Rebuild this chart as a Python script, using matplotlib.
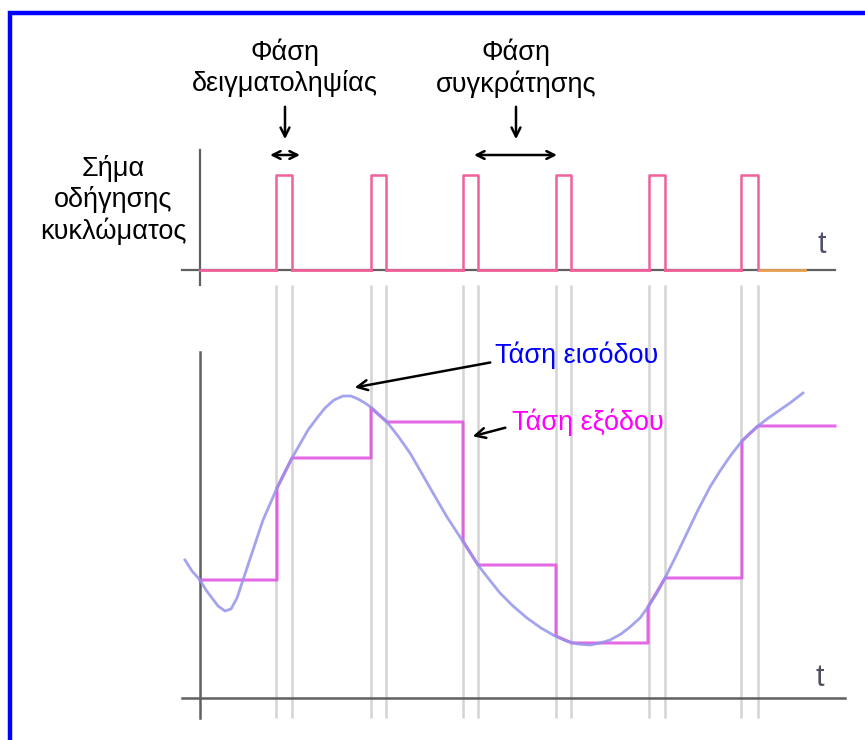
import numpy as np
import matplotlib
matplotlib.use("Agg")
import matplotlib.pyplot as plt
from matplotlib.patches import Rectangle, FancyArrowPatch

plt.rcParams['font.family'] = ['Liberation Sans', 'DejaVu Sans']

W, H = 865, 740

# sampling windows (time units), same for the drive pulses
win_start = [7.6, 17.1, 26.3, 35.6, 44.9, 54.1]
win_end = [9.2, 18.6, 27.8, 37.1, 46.5, 55.8]

# input voltage
vin_t = [-1.5, -0.8, 0.0, 0.6, 1.2, 1.8, 2.5, 3.1, 3.7, 4.2, 5.2, 6.3, 7.7,
         9.2, 10.8, 11.7, 12.5, 13.4, 14.3, 15.1, 15.8, 16.5, 17.2, 18.7,
         19.8, 21.0, 22.1, 23.3, 24.7, 26.2, 27.8, 28.8, 30.0, 31.3, 32.7,
         34.1, 35.5, 36.6, 37.8, 39.0, 40.0, 41.0, 42.1, 43.0, 44.0, 44.8,
         45.7, 46.5, 47.6, 48.7, 49.8, 51.0, 52.0, 53.1, 54.2, 55.0, 55.8,
         56.7, 57.7, 59.0, 60.3]
vin_v = [13.8, 12.7, 11.8, 10.8, 10.0, 9.2, 8.7, 8.9, 10.0, 11.5, 14.5, 17.8,
         21.0, 24.0, 26.8, 28.0, 29.0, 29.8, 30.2, 30.2, 29.9, 29.5, 29.0,
         27.6, 26.2, 24.5, 22.6, 20.5, 18.1, 15.8, 13.3, 12.0, 10.5, 9.2,
         8.0, 7.0, 6.2, 5.7, 5.4, 5.3, 5.5, 5.8, 6.4, 7.1, 8.0, 9.1, 10.5,
         12.0, 14.2, 16.5, 18.8, 21.1, 22.7, 24.3, 25.7, 26.5, 27.2, 27.9,
         28.6, 29.5, 30.5]

# sample-and-hold output
vout_t = [0.0, 7.7, 7.7, 9.2, 17.1, 17.1, 18.7, 26.3, 26.3, 27.8, 35.6, 35.6,
          37.2, 44.8, 44.8, 46.5, 54.2, 54.2, 55.8, 63.5]
vout_v = [11.8, 11.8, 21.0, 24.0, 24.0, 29.0, 27.6, 27.6, 15.7, 13.3, 13.3,
          6.2, 5.5, 5.5, 9.1, 12.0, 12.0, 25.7, 27.2, 27.2]

fig = plt.figure(figsize=(W / 100, H / 100), dpi=100)


def px(x, y):
    return (x / W, 1 - y / H)


# blue frame
fig.patches.append(Rectangle(px(10, 742), 870 / W, 729 / H, fill=False,
                             edgecolor='#0000ff', linewidth=3.2,
                             transform=fig.transFigure))

axc = fig.add_axes([180 / W, 1 - 289 / H, 670 / W, 142.5 / H])
axv = fig.add_axes([180 / W, 1 - 723 / H, 670 / W, 375 / H])
for ax in (axc, axv):
    ax.set_xlim(-2, 65)
    ax.axis('off')
axc.set_ylim(-0.2, 1.3)
axv.set_ylim(-2.5, 35)

axis_col = '#606060'
pulse_col = '#f0609a'

# --- drive signal
axc.plot([-1.8, 63.5], [0, 0], color=axis_col, lw=1.6, zorder=1)
axc.plot([0, 0], [-0.16, 1.26], color=axis_col, lw=1.6, zorder=1)
last = 0.0
for s, e in zip(win_start, win_end):
    axc.plot([last, s], [0, 0], color=pulse_col, lw=2, zorder=2)
    axc.plot([s, s, e, e], [0, 1, 1, 0], color=pulse_col, lw=1.8, zorder=2)
    last = e
axc.plot([56.0, 60.5], [0, 0], color='#e8a050', lw=2, zorder=2)
axc.text(62.2, 0.26, 't', fontsize=22, color='#505070', ha='center', va='center')

# --- voltages
axv.plot([-1.8, 64.5], [0, 0], color=axis_col, lw=1.8, zorder=1)
axv.plot([0, 0], [-2, 34.6], color=axis_col, lw=1.8, zorder=1)
edges = win_start + win_end
axv.vlines(edges, -2, 41.3, color='#d4d4d4', lw=1.8, zorder=0, clip_on=False)
axv.plot(vout_t, vout_v, color='#e050e0', lw=2.2, alpha=0.85, zorder=3)
axv.plot(vin_t, vin_v, color='#9494ec', lw=2, alpha=0.85, zorder=4)
axv.text(62.0, 2.0, 't', fontsize=22, color='#505060', ha='center', va='center')

arrow = dict(arrowstyle='->', color='black', lw=1.8, mutation_scale=18)
axv.annotate('', xy=(15.2, 31.0), xytext=(29.3, 33.6), arrowprops=arrow)
axv.text(29.5, 34.3, 'Τάση εισόδου', fontsize=19.5, color='#0000ff',
         ha='left', va='center')
axv.annotate('', xy=(27.0, 26.1), xytext=(30.8, 27.1), arrowprops=arrow)
axv.text(31.2, 27.6, 'Τάση εξόδου', fontsize=19.5, color='#ff00ff',
         ha='left', va='center')

# --- labels on the figure
fig.text(*px(285, 68), 'Φάση\nδειγματοληψίας', fontsize=19.5, ha='center',
         va='center', linespacing=1.2)
fig.text(*px(516, 68), 'Φάση\nσυγκράτησης', fontsize=19.5, ha='center',
         va='center', linespacing=1.2)
fig.text(*px(113, 200), 'Σήμα\nοδήγησης\nκυκλώματος', fontsize=19.5,
         ha='center', va='center', linespacing=1.2)

farrow = dict(arrowstyle='->', color='black', lw=1.8, mutation_scale=16)
fig.add_artist(FancyArrowPatch(px(285, 104), px(285, 142),
                               transform=fig.transFigure, **farrow))
fig.add_artist(FancyArrowPatch(px(516, 104), px(516, 142),
                               transform=fig.transFigure, **farrow))
darrow = dict(arrowstyle='<->', color='black', lw=1.8, mutation_scale=14)
fig.add_artist(FancyArrowPatch(px(270, 155), px(300, 155),
                               transform=fig.transFigure,
                               shrinkA=0, shrinkB=0, **darrow))
fig.add_artist(FancyArrowPatch(px(474, 155), px(557, 155),
                               transform=fig.transFigure,
                               shrinkA=0, shrinkB=0, **darrow))

fig.savefig('out.png', dpi=100)
